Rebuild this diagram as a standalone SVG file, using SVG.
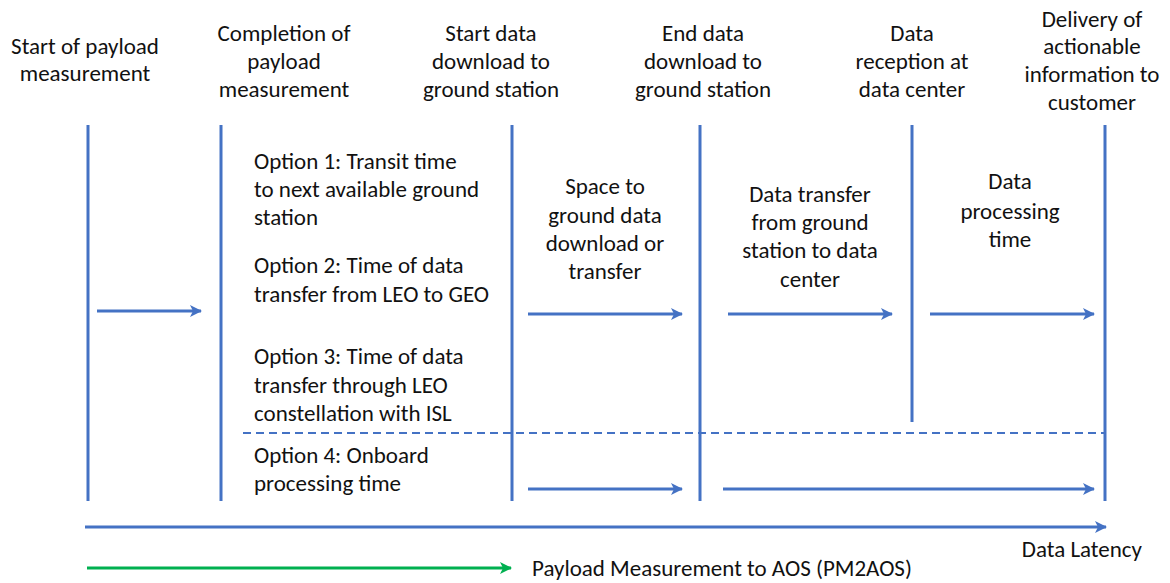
<svg xmlns="http://www.w3.org/2000/svg" width="1170" height="583" viewBox="0 0 1170 583">
<style>
text{font-family:Carlito,Lato,"Liberation Sans",sans-serif;font-size:23px;fill:#111}
.c{text-anchor:middle}
.v{stroke:#4472C4;stroke-width:3;fill:none}
.a{stroke:#4472C4;stroke-width:3;fill:none;marker-end:url(#ab)}
.g{stroke:#00B050;stroke-width:3;fill:none;marker-end:url(#ag)}
.d{stroke:#4472C4;stroke-width:2;stroke-dasharray:8,5;fill:none}
</style>
<defs>
<marker id="ab" viewBox="0 0 12 12" refX="11" refY="6" markerWidth="12" markerHeight="12" markerUnits="userSpaceOnUse" orient="auto">
<path d="M0,0 L12,6 L0,12 L3,6 z" fill="#4472C4"/>
</marker>
<marker id="ag" viewBox="0 0 12 12" refX="11" refY="6" markerWidth="12" markerHeight="12" markerUnits="userSpaceOnUse" orient="auto">
<path d="M0,0 L12,6 L0,12 L3,6 z" fill="#00B050"/>
</marker>
</defs>
<g id="headers">
<text class="c" x="85"><tspan x="85" y="54">Start of payload</tspan><tspan x="85" y="81">measurement</tspan></text>
<text class="c" x="284"><tspan x="284" y="41">Completion of</tspan><tspan x="284" y="69">payload</tspan><tspan x="284" y="97">measurement</tspan></text>
<text class="c" x="491"><tspan x="491" y="41">Start data</tspan><tspan x="491" y="69">download to</tspan><tspan x="491" y="97">ground station</tspan></text>
<text class="c" x="703"><tspan x="703" y="41">End data</tspan><tspan x="703" y="69">download to</tspan><tspan x="703" y="97">ground station</tspan></text>
<text class="c" x="912"><tspan x="912" y="41">Data</tspan><tspan x="912" y="69">reception at</tspan><tspan x="912" y="97">data center</tspan></text>
<text class="c" x="1092"><tspan x="1092" y="27">Delivery of</tspan><tspan x="1092" y="54">actionable</tspan><tspan x="1092" y="82">information to</tspan><tspan x="1092" y="110">customer</tspan></text>
</g>
<g id="timelines">
<line class="v" x1="88" y1="125" x2="88" y2="501"/>
<line class="v" x1="221" y1="125" x2="221" y2="501"/>
<line class="v" x1="512" y1="125" x2="512" y2="501"/>
<line class="v" x1="700" y1="125" x2="700" y2="501"/>
<line class="v" x1="912" y1="125" x2="912" y2="422"/>
<line class="v" x1="1105" y1="125" x2="1105" y2="501"/>
</g>
<g id="options">
<text><tspan x="254" y="169">Option 1: Transit time</tspan><tspan x="254" y="197">to next available ground</tspan><tspan x="254" y="225">station</tspan></text>
<text><tspan x="254" y="273">Option 2: Time of data</tspan><tspan x="254" y="302">transfer from LEO to GEO</tspan></text>
<text><tspan x="254" y="364">Option 3: Time of data</tspan><tspan x="254" y="393">transfer through LEO</tspan><tspan x="254" y="421">constellation with ISL</tspan></text>
<text><tspan x="254" y="463">Option 4: Onboard</tspan><tspan x="254" y="491">processing time</tspan></text>
</g>
<g id="segments">
<text class="c"><tspan x="605" y="194">Space to</tspan><tspan x="605" y="223">ground data</tspan><tspan x="605" y="251">download or</tspan><tspan x="605" y="279">transfer</tspan></text>
<text class="c"><tspan x="810" y="202">Data transfer</tspan><tspan x="810" y="230">from ground</tspan><tspan x="810" y="258">station to data</tspan><tspan x="810" y="287">center</tspan></text>
<text class="c"><tspan x="1010" y="189">Data</tspan><tspan x="1010" y="219">processing</tspan><tspan x="1010" y="247">time</tspan></text>
</g>
<g id="connectors">
<line class="d" x1="243" y1="433" x2="1105" y2="433"/>
<line class="a" x1="97" y1="311" x2="201" y2="311"/>
<line class="a" x1="528" y1="314" x2="682" y2="314"/>
<line class="a" x1="728" y1="314" x2="892" y2="314"/>
<line class="a" x1="930" y1="314" x2="1094" y2="314"/>
<line class="a" x1="528" y1="489" x2="682" y2="489"/>
<line class="a" x1="723" y1="489" x2="1094" y2="489"/>
<line class="a" x1="85" y1="527" x2="1106" y2="527"/>
<line class="g" x1="87" y1="568" x2="511" y2="568"/>
</g>
<g id="legend">
<text x="1142" y="557" text-anchor="end">Data Latency</text>
<text x="532" y="576">Payload Measurement to AOS (PM2AOS)</text>
</g>
</svg>
